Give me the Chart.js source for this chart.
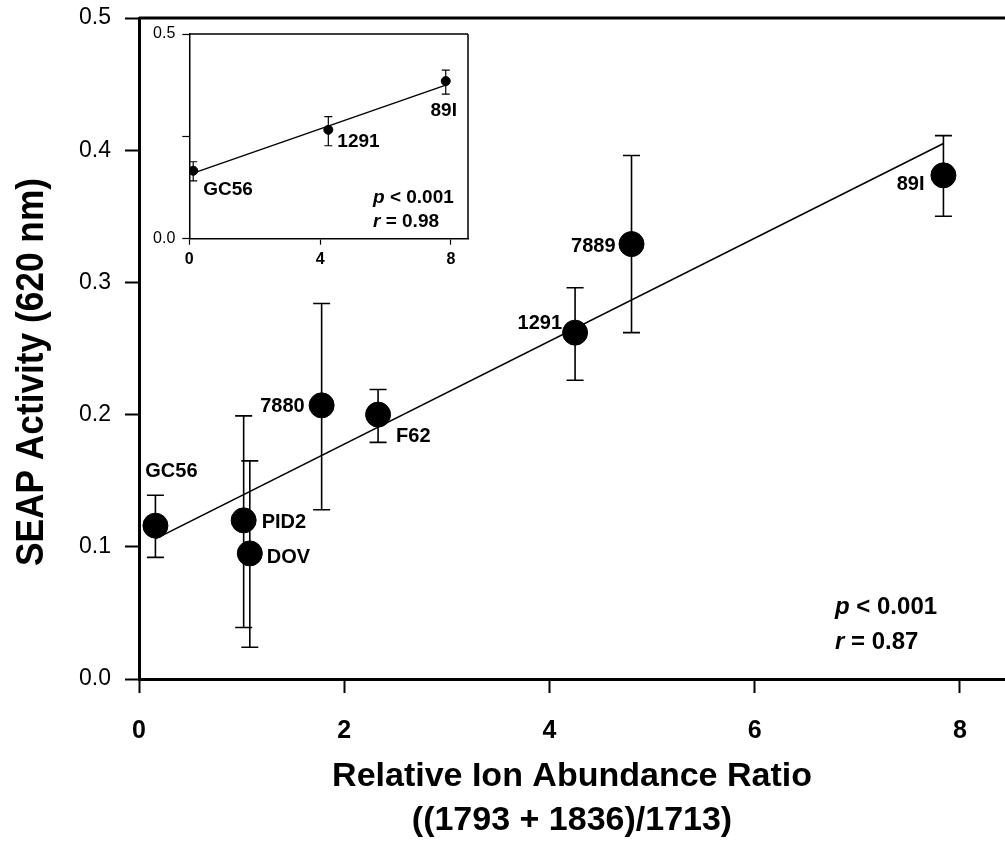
<!DOCTYPE html>
<html><head><meta charset="utf-8">
<script src="https://cdn.jsdelivr.net/npm/chart.js@4.4.1/dist/chart.umd.min.js"></script>
<style>
html,body{margin:0;padding:0;background:#fff;overflow:hidden;}
#wrap{position:relative;width:1005px;height:843px;background:#fff;}
#main{position:absolute;left:0;top:0;}
#inset{position:absolute;left:140px;top:24px;}
</style></head><body>
<div id="wrap">
<canvas id="main" width="1005" height="843" style="width:1005px;height:843px"></canvas>
<canvas id="inset" width="340" height="250" style="width:340px;height:250px"></canvas>
</div>
<script>
// ---------- main chart data ----------
const strains   = ['GC56', 'PID2', 'DOV', '7880', 'F62', '1291', '7889', '89I'];
const ratio     = [0.16, 1.02, 1.08, 1.78, 2.33, 4.25, 4.80, 7.84];
const seap      = [0.116, 0.120, 0.095, 0.207, 0.200, 0.262, 0.329, 0.381];
const errTop    = [0.139, 0.199, 0.165, 0.284, 0.219, 0.296, 0.396, 0.411];
const errBottom = [0.092, 0.039, 0.024, 0.128, 0.179, 0.226, 0.262, 0.350];
const fitX = [0.16, 7.84];
const fitY = [0.106, 0.405];
const xTickValues = [0, 2, 4, 6, 8];
const yTickValues = [0.0, 0.1, 0.2, 0.3, 0.4, 0.5];
const statsMain = ['0.001', '0.87'];

// ---------- inset data ----------
const insetStrains   = ['GC56', '1291', '89I'];
const insetRatio     = [0.12, 4.25, 7.84];
const insetSeap      = [0.166, 0.266, 0.385];
const insetErrTop    = [0.188, 0.298, 0.412];
const insetErrBottom = [0.141, 0.227, 0.353];
const insetFitX = [0.12, 7.84];
const insetFitY = [0.160, 0.375];
const insetXTickValues = [0, 4, 8];
const insetYTickValues = [0.0, 0.25, 0.5];
const insetYLabelled = [0.0, 0.5];
const statsInset = ['0.001', '0.98'];

const FONT = "'Liberation Sans', Arial, Helvetica, sans-serif";
const NARROW = "'Liberation Sans Narrow', 'Arial Narrow', 'Liberation Sans', Arial, sans-serif";

// label placement (style, in px relative to point)
const mainLabelStyle = [
  {dx: 16, dy: -54, align: 'center'},
  {dx: 18, dy: 2, align: 'left'},
  {dx: 17, dy: 4, align: 'left'},
  {dx: -17, dy: 1, align: 'right'},
  {dx: 18, dy: 22, align: 'left'},
  {dx: -13, dy: -9, align: 'right'},
  {dx: -16, dy: 2, align: 'right'},
  {dx: -19, dy: 9, align: 'right'}
];
const insetLabelStyle = [
  {dx: 10, dy: 19, align: 'left'},
  {dx: 9, dy: 12, align: 'left'},
  {dx: -2, dy: 30, align: 'center'}
];

const errorBarPlugin = {
  id: 'errbars',
  beforeDatasetsDraw(chart, args, opts) {
    const {ctx, scales: {x, y}} = chart;
    ctx.save();
    ctx.strokeStyle = '#000';
    ctx.lineWidth = opts.width;
    for (let i = 0; i < opts.xs.length; i++) {
      const px = x.getPixelForValue(opts.xs[i]);
      const pt = y.getPixelForValue(opts.top[i]);
      const pb = y.getPixelForValue(opts.bottom[i]);
      ctx.beginPath();
      ctx.moveTo(px, pt); ctx.lineTo(px, pb);
      ctx.moveTo(px - opts.cap, pt); ctx.lineTo(px + opts.cap, pt);
      ctx.moveTo(px - opts.cap, pb); ctx.lineTo(px + opts.cap, pb);
      ctx.stroke();
    }
    ctx.restore();
  }
};

const labelPlugin = {
  id: 'ptlabels',
  afterDatasetsDraw(chart, args, opts) {
    const {ctx, scales: {x, y}} = chart;
    ctx.save();
    ctx.fillStyle = '#000';
    ctx.font = opts.font;
    ctx.textBaseline = 'middle';
    for (let i = 0; i < opts.names.length; i++) {
      const st = opts.style[i];
      ctx.textAlign = st.align;
      ctx.fillText(opts.names[i], x.getPixelForValue(opts.xs[i]) + st.dx, y.getPixelForValue(opts.ys[i]) + st.dy);
    }
    ctx.restore();
  }
};

const framePlugin = {
  id: 'frame',
  afterDraw(chart, args, opts) {
    const {ctx, chartArea: a} = chart;
    ctx.save();
    ctx.strokeStyle = '#000';
    ctx.lineWidth = opts.width;
    ctx.beginPath();
    ctx.moveTo(a.left, a.top); ctx.lineTo(a.right, a.top);
    if (opts.right) { ctx.moveTo(a.right, a.top); ctx.lineTo(a.right, a.bottom); }
    ctx.stroke();
    ctx.restore();
  }
};

// the main plot area runs off the right edge of the page: stretch it to the canvas edge
const fullWidthPlugin = {
  id: 'fullwidth',
  afterLayout(chart) {
    const x = chart.scales.x;
    x.right = chart.width;
    x.width = x.right - x.left;
    x.maxWidth = x.width;
    chart.chartArea.right = chart.width;
    chart.chartArea.width = chart.chartArea.right - chart.chartArea.left;
    x.configure();
  }
};

const statsPlugin = {
  id: 'stats',
  afterDraw(chart, args, opts) {
    const {ctx} = chart;
    ctx.save();
    ctx.fillStyle = '#000';
    ctx.textBaseline = 'middle';
    ctx.textAlign = 'left';
    const rows = [['p', ' < ' + opts.values[0]], ['r', ' = ' + opts.values[1]]];
    rows.forEach((r, i) => {
      const yy = opts.y + i * opts.gap;
      ctx.font = 'italic bold ' + opts.size + 'px ' + FONT;
      ctx.fillText(r[0], opts.x, yy);
      const w = ctx.measureText(r[0]).width;
      ctx.font = 'bold ' + opts.size + 'px ' + FONT;
      ctx.fillText(r[1], opts.x + w, yy);
    });
    ctx.restore();
  }
};

const yTitlePlugin = {
  id: 'ytitle',
  afterDraw(chart, args, opts) {
    const {ctx} = chart;
    ctx.save();
    ctx.fillStyle = '#000';
    ctx.font = 'bold ' + opts.size + 'px ' + NARROW;
    ctx.textAlign = 'center';
    ctx.textBaseline = 'middle';
    ctx.translate(opts.x, opts.y);
    ctx.rotate(-Math.PI / 2);
    const w = ctx.measureText(opts.text).width;
    ctx.scale(opts.length / w, 1);
    ctx.fillText(opts.text, 0, 0);
    ctx.restore();
  }
};

function noPadX(h) {
  return s => { s.height = h; s.paddingLeft = 0; s.paddingRight = 0; s.paddingTop = 0; s.paddingBottom = 0; };
}
function noPadY(w) {
  return s => { s.width = w; s.paddingLeft = 0; s.paddingRight = 0; s.paddingTop = 0; s.paddingBottom = 0; };
}

// ---------- main chart ----------
new Chart(document.getElementById('main'), {
  type: 'scatter',
  data: {
    datasets: [
      {
        type: 'line',
        data: fitX.map((v, i) => ({x: v, y: fitY[i]})),
        borderColor: '#000', borderWidth: 1.6, pointRadius: 0, fill: false, order: 2
      },
      {
        data: ratio.map((v, i) => ({x: v, y: seap[i]})),
        backgroundColor: '#000', borderColor: '#000', pointRadius: 12.5, pointHoverRadius: 12.5, order: 1
      }
    ]
  },
  options: {
    responsive: false, animation: false,
    layout: {padding: {top: 18, right: 0, left: 0, bottom: 0}},
    plugins: {
      legend: {display: false}, tooltip: {enabled: false},
      errbars: {xs: ratio, top: errTop, bottom: errBottom, cap: 8.5, width: 1.6},
      ptlabels: {names: strains, xs: ratio, ys: seap, style: mainLabelStyle, font: 'bold 20px ' + FONT},
      frame: {width: 3, right: false},
      stats: {values: statsMain, x: 835, y: 607, gap: 35, size: 24},
      ytitle: {text: 'SEAP Activity (620 nm)', x: 32, y: 372, size: 39, length: 388}
    },
    scales: {
      x: {
        type: 'linear', min: 0, max: 8.44,
        afterFit: noPadX(164),
        afterBuildTicks: s => { s.ticks = xTickValues.map(v => ({value: v})); },
        ticks: {autoSkip: false, maxRotation: 0, color: '#000', padding: 23,
          font: {family: FONT, size: 25, weight: 'bold'}, callback: v => String(v)},
        grid: {drawOnChartArea: false, drawTicks: true, tickLength: 14, tickWidth: 2, tickColor: '#000'},
        border: {display: true, width: 3, color: '#000'},
        title: {display: true, text: ['Relative Ion Abundance Ratio', '((1793 + 1836)/1713)'], color: '#000',
          font: {family: FONT, size: 34, weight: 'bold', lineHeight: '44px'}, padding: {top: 0, bottom: 0}}
      },
      y: {
        type: 'linear', min: 0, max: 0.5,
        afterFit: noPadY(139),
        afterBuildTicks: s => { s.ticks = yTickValues.map(v => ({value: v})); },
        ticks: {autoSkip: false, color: '#000', padding: 14,
          font: {family: FONT, size: 23}, callback: v => Number(v).toFixed(1)},
        grid: {drawOnChartArea: false, drawTicks: true, tickLength: 14, tickWidth: 2, tickColor: '#000'},
        border: {display: true, width: 3, color: '#000'}
      }
    }
  },
  plugins: [fullWidthPlugin, errorBarPlugin, labelPlugin, framePlugin, statsPlugin, yTitlePlugin]
});

// ---------- inset chart ----------
new Chart(document.getElementById('inset'), {
  type: 'scatter',
  data: {
    datasets: [
      {
        type: 'line',
        data: insetFitX.map((v, i) => ({x: v, y: insetFitY[i]})),
        borderColor: '#000', borderWidth: 1.4, pointRadius: 0, fill: false, order: 2
      },
      {
        data: insetRatio.map((v, i) => ({x: v, y: insetSeap[i]})),
        backgroundColor: '#000', borderColor: '#000', pointRadius: 4.5, pointHoverRadius: 4.5, order: 1
      }
    ]
  },
  options: {
    responsive: false, animation: false,
    layout: {padding: {top: 10, right: 12, left: 0, bottom: 0}},
    plugins: {
      legend: {display: false}, tooltip: {enabled: false},
      errbars: {xs: insetRatio, top: insetErrTop, bottom: insetErrBottom, cap: 4, width: 1.2},
      ptlabels: {names: insetStrains, xs: insetRatio, ys: insetSeap, style: insetLabelStyle, font: 'bold 19px ' + FONT},
      frame: {width: 1.5, right: true},
      stats: {values: statsInset, x: 233, y: 174, gap: 24, size: 19}
    },
    scales: {
      x: {
        type: 'linear', min: 0, max: 8.52,
        afterFit: noPadX(35.3),
        afterBuildTicks: s => { s.ticks = insetXTickValues.map(v => ({value: v})); },
        ticks: {autoSkip: false, maxRotation: 0, color: '#000', padding: 5,
          font: {family: FONT, size: 16, weight: 'bold'}, callback: v => String(v)},
        grid: {drawOnChartArea: false, drawTicks: true, tickLength: 6, tickWidth: 1.2, tickColor: '#000'},
        border: {display: true, width: 1.5, color: '#000'}
      },
      y: {
        type: 'linear', min: 0, max: 0.5,
        afterFit: noPadY(49.3),
        afterBuildTicks: s => { s.ticks = insetYTickValues.map(v => ({value: v})); },
        ticks: {autoSkip: false, color: '#000', padding: 7,
          font: {family: FONT, size: 16}, callback: v => insetYLabelled.includes(v) ? Number(v).toFixed(1) : ''},
        grid: {drawOnChartArea: false, drawTicks: true, tickLength: 7, tickWidth: 1.2, tickColor: '#000'},
        border: {display: true, width: 1.5, color: '#000'}
      }
    }
  },
  plugins: [errorBarPlugin, labelPlugin, framePlugin, statsPlugin]
});
</script>
</body></html>
